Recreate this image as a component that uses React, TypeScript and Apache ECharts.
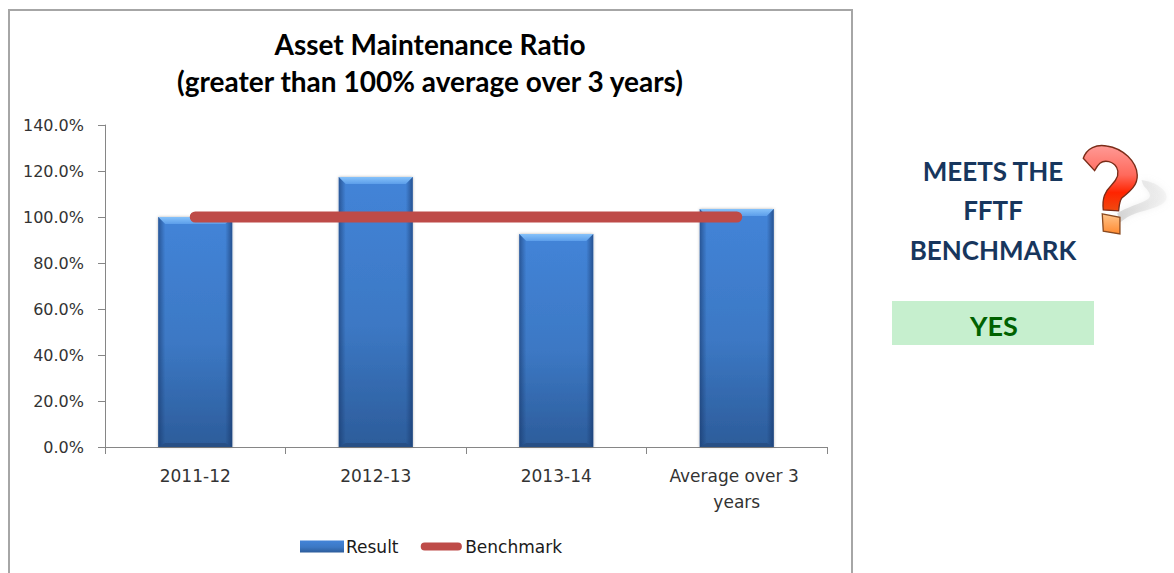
import React, { useEffect, useRef } from "react";
import * as echarts from "echarts";

const categories = ["2011-12", "2012-13", "2013-14", "Average over 3 years"];
const resultValues = [100, 117.4, 92.6, 103.5];
const benchmarkValues = [100, 100, 100, 100];
const titleLines = ["Asset Maintenance Ratio", "(greater than 100% average over 3 years)"];
const sideLines = ["MEETS THE", "FFTF", "BENCHMARK"];
const verdict = "YES";

const UI_FONT = "'DejaVu Sans'";
const HEAD_FONT = "Lato";

// Pill-shaped legend key; the two leading moves reserve the icon's full height
const BENCHMARK_ICON = "path://M0 0M0 13M4.5 2.2H40.5A4.3 4.3 0 0 1 40.5 10.8H4.5A4.3 4.3 0 0 1 4.5 2.2Z";

// Question mark outlines, in a 400x360 local space
const QUESTION_HOOK =
  "M130 85 C140 55 170 42 200 48 C250 55 290 95 292 135 C294 170 262 190 245 205 C238 215 238 228 236 243 L190 240 C186 205 195 185 215 165 C232 148 240 130 230 112 C220 95 195 88 180 100 C172 107 168 115 164 122 Z";
const QUESTION_DOT = "M187 252 L240 262 L240 312 L190 304 Z";
const QUESTION_SHADOW =
  "M305 150 C345 155 385 180 380 205 C375 235 300 240 262 262 L240 278 L232 250 C270 225 335 215 330 195 C325 175 310 175 305 150 Z";
echarts.graphic.registerShape("qmHook", echarts.graphic.extendPath(QUESTION_HOOK, {}));
echarts.graphic.registerShape("qmDot", echarts.graphic.extendPath(QUESTION_DOT, {}));
echarts.graphic.registerShape("qmShadow", echarts.graphic.extendPath(QUESTION_SHADOW, {}));

const vGrad = (stops: [number, string][]) =>
  new echarts.graphic.LinearGradient(0, 0, 0, 1, stops.map(([offset, color]) => ({ offset, color })));
const hGrad = (stops: [number, string][]) =>
  new echarts.graphic.LinearGradient(0, 0, 1, 0, stops.map(([offset, color]) => ({ offset, color })));

const BEVEL = 7;

// Draws the chiselled edges over each column, sized from the axis scales
function renderBevel(params: any, api: any) {
  const base = api.coord([api.value(0), 0]);
  const top = api.coord([api.value(0), api.value(1)]);
  const w = api.size([1, 0])[0] * 0.41;
  const l = base[0] - w / 2;
  const r = base[0] + w / 2;
  const t = top[1];
  const b = base[1];
  return {
    type: "group",
    children: [
      {
        type: "rect",
        shape: { x: l, y: t, width: BEVEL, height: b - t },
        style: { fill: hGrad([[0, "rgba(20,50,100,0.55)"], [1, "rgba(20,50,100,0)"]]) },
      },
      {
        type: "rect",
        shape: { x: r - BEVEL, y: t, width: BEVEL, height: b - t },
        style: { fill: hGrad([[0, "rgba(20,50,100,0)"], [1, "rgba(20,50,100,0.6)"]]) },
      },
      {
        type: "polygon",
        shape: { points: [[l, t], [r, t], [r - BEVEL, t + BEVEL], [l + BEVEL, t + BEVEL]] },
        style: { fill: vGrad([[0, "#86c2fa"], [1, "#5c9eea"]]) },
      },
      {
        type: "polygon",
        shape: { points: [[l, b], [r, b], [r - BEVEL, b - 4], [l + BEVEL, b - 4]] },
        style: { fill: "#274f85" },
      },
    ],
  };
}

export default function App() {
  const ref = useRef<HTMLDivElement>(null);

  useEffect(() => {
    const chart = echarts.init(ref.current!, null, { renderer: "svg" });
    chart.setOption({
      animation: false,
      backgroundColor: "#ffffff",
      title: {
        text: titleLines.join("\n"),
        left: 425,
        top: 20,
        textAlign: "center",
        textStyle: {
          fontFamily: HEAD_FONT,
          fontWeight: "bold",
          fontSize: 28,
          lineHeight: 37,
          color: "#000000",
        },
      },
      grid: { left: 105, right: 347, top: 125, bottom: 126 },
      legend: {
        left: 295,
        top: 533,
        itemGap: 22,
        itemWidth: 44,
        itemHeight: 12,
        selectedMode: false,
        textStyle: { fontFamily: UI_FONT, fontSize: 17, color: "#1a1a1a", padding: [0, 0, 0, -3] },
        data: [
          { name: "Result", icon: "rect" },
          { name: "Benchmark", icon: BENCHMARK_ICON },
        ],
      },
      xAxis: {
        type: "category",
        data: categories,
        axisLine: { lineStyle: { color: "#868686", width: 1 } },
        axisTick: { show: true, alignWithLabel: false, length: 7, lineStyle: { color: "#868686" } },
        axisLabel: {
          margin: 16,
          fontFamily: UI_FONT,
          fontSize: 17,
          lineHeight: 26,
          color: "#333333",
          width: 150,
          overflow: "break",
          interval: 0,
        },
      },
      yAxis: {
        type: "value",
        min: 0,
        max: 140,
        interval: 20,
        splitLine: { show: false },
        axisLine: { show: true, lineStyle: { color: "#868686", width: 1 } },
        axisTick: { show: true, length: 7, lineStyle: { color: "#868686" } },
        axisLabel: {
          margin: 21,
          fontFamily: UI_FONT,
          fontSize: 16,
          color: "#333333",
          formatter: (v: number) => v.toFixed(1) + "%",
        },
      },
      series: [
        {
          name: "Result",
          type: "bar",
          data: resultValues,
          barWidth: "41%",
          z: 2,
          itemStyle: {
            color: vGrad([[0, "#4384d8"], [0.55, "#3c78c4"], [1, "#2c5c9a"]]),
            shadowColor: "rgba(0,0,0,0.3)",
            shadowBlur: 3,
          },
        },
        {
          name: "Bevel",
          type: "custom",
          data: resultValues.map((v, i) => [i, v]),
          renderItem: renderBevel,
          encode: { x: 0, y: 1 },
          z: 3,
          silent: true,
        },
        {
          name: "Benchmark",
          type: "line",
          data: benchmarkValues,
          symbol: "none",
          z: 4,
          lineStyle: { color: "#be4b48", width: 11, cap: "round" },
          itemStyle: { color: "#be4b48" },
        },
      ],
      graphic: [
        {
          type: "rect",
          silent: true,
          shape: { x: 9, y: 10, width: 843, height: 600 },
          style: { fill: "transparent", stroke: "#a6a6a6", lineWidth: 2 },
        },
        ...sideLines.map((line, i) => ({
          type: "text",
          x: 993,
          y: 170.5 + i * 39.5,
          style: {
            text: line,
            fontFamily: HEAD_FONT,
            fontWeight: "bold",
            fontSize: 26,
            fill: "#17365d",
            align: "center",
            verticalAlign: "middle",
          },
        })),
        {
          type: "rect",
          shape: { x: 892, y: 301, width: 202, height: 44 },
          style: { fill: "#c6efce" },
        },
        {
          type: "text",
          x: 994,
          y: 325,
          style: {
            text: verdict,
            fontFamily: HEAD_FONT,
            fontWeight: "bold",
            fontSize: 27,
            fill: "#006100",
            align: "center",
            verticalAlign: "middle",
          },
        },
        {
          type: "group",
          x: 1040,
          y: 130,
          scaleX: 1 / 3,
          scaleY: 1 / 3,
          children: [
            {
              type: "qmShadow",
              style: {
                fill: hGrad([[0, "rgba(170,170,170,0.45)"], [1, "rgba(225,225,225,0.25)"]]),
                shadowColor: "rgba(190,190,190,0.6)",
                shadowBlur: 6,
              },
            },
            {
              type: "qmHook",
              style: {
                fill: vGrad([[0, "#ff9a96"], [0.45, "#ff6a5c"], [0.72, "#ff2400"], [1, "#f04a10"]]),
                stroke: "#7a2c18",
                lineWidth: 4,
              },
            },
            {
              type: "qmDot",
              style: {
                fill: vGrad([[0, "#ffc48a"], [1, "#ff8a30"]]),
                stroke: "#8a4a20",
                lineWidth: 4,
              },
            },
          ],
        },
      ],
    });
    return () => chart.dispose();
  }, []);

  return <div ref={ref} style={{ position: "fixed", left: 0, top: 0, width: 1174, height: 573 }} />;
}
